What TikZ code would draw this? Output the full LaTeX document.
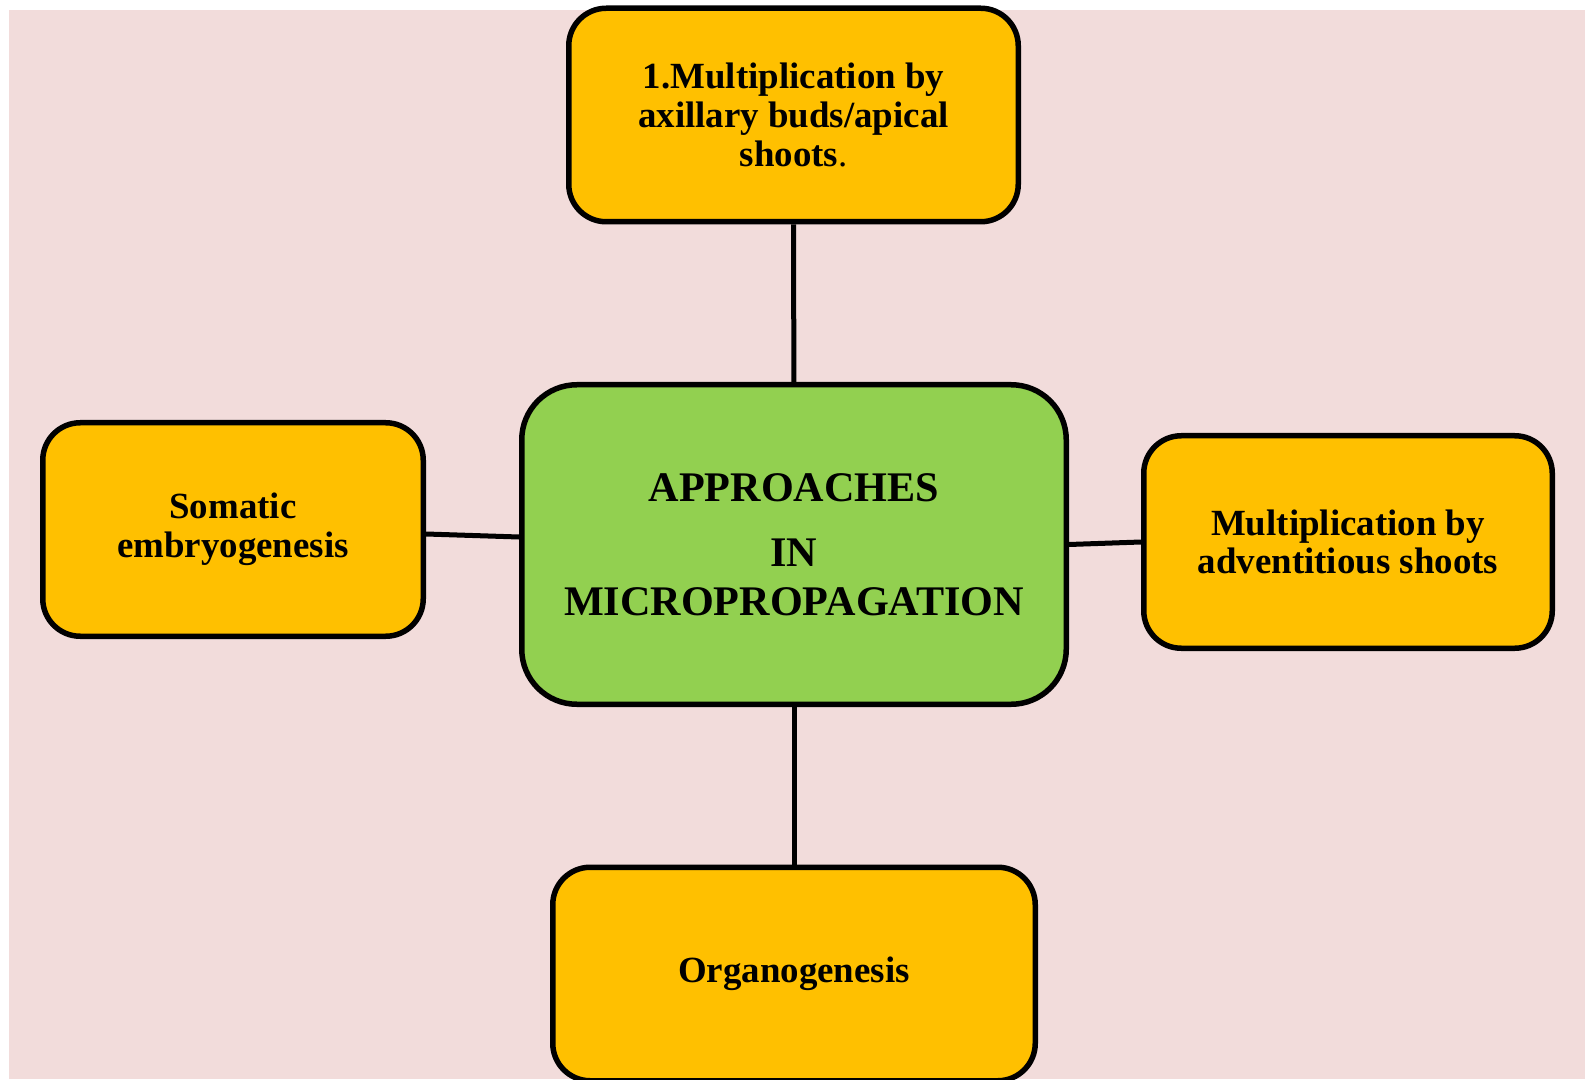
\documentclass[tikz,border=0pt]{standalone}
\usepackage{fontspec}
\usepackage{tikz}
\setmainfont{Liberation Serif}
\definecolor{bgpink}{HTML}{F2DCDB}
\definecolor{boxyellow}{HTML}{FFC000}
\definecolor{boxgreen}{HTML}{92D050}

\begin{document}
\begin{tikzpicture}[
		approach/.style={draw,line width=0.11cm,fill=boxyellow,rounded corners=0.75cm,align=center,font=\fontsize{21}{22}\selectfont\bfseries},
		hub/.style={draw,line width=0.11cm,fill=boxgreen,rounded corners=1.1cm,align=center,font=\fontsize{24}{28}\selectfont\bfseries},
		link/.style={line width=0.1cm}]
			\useasboundingbox (0,0) rectangle (31.7,21.58);
			\fill[bgpink] (0.18,0) rectangle (31.7,21.38);
			
			\node[hub,minimum width=10.89cm,minimum height=6.39cm] (hub) at (15.88,10.69) {APPROACHES\\[9pt] IN\\ MICROPROPAGATION};
			\node[approach,minimum width=8.99cm,minimum height=4.27cm] (axil) at (15.87,19.28) {1.Multiplication by\\ axillary buds/apical\\ shoots{\mdseries.}};
			\node[approach,minimum width=7.61cm,minimum height=4.27cm] (soma) at (4.66,10.99) {Somatic\\ embryogenesis};
			\node[approach,minimum width=8.17cm,minimum height=4.25cm] (advent) at (26.96,10.74) {Multiplication by\\ adventitious shoots};
			\node[approach,minimum width=9.65cm,minimum height=4.27cm] (organo) at (15.88,2.10) {Organogenesis};
			
			\draw[link] (axil) -- (hub);
			\draw[link] ([yshift=-0.09cm]soma.east) -- ([yshift=0.15cm]hub.west);
			\draw[link] (hub.east) -- (advent.west);
			\draw[link] (hub) -- (organo);
		\end{tikzpicture}
\end{document}
